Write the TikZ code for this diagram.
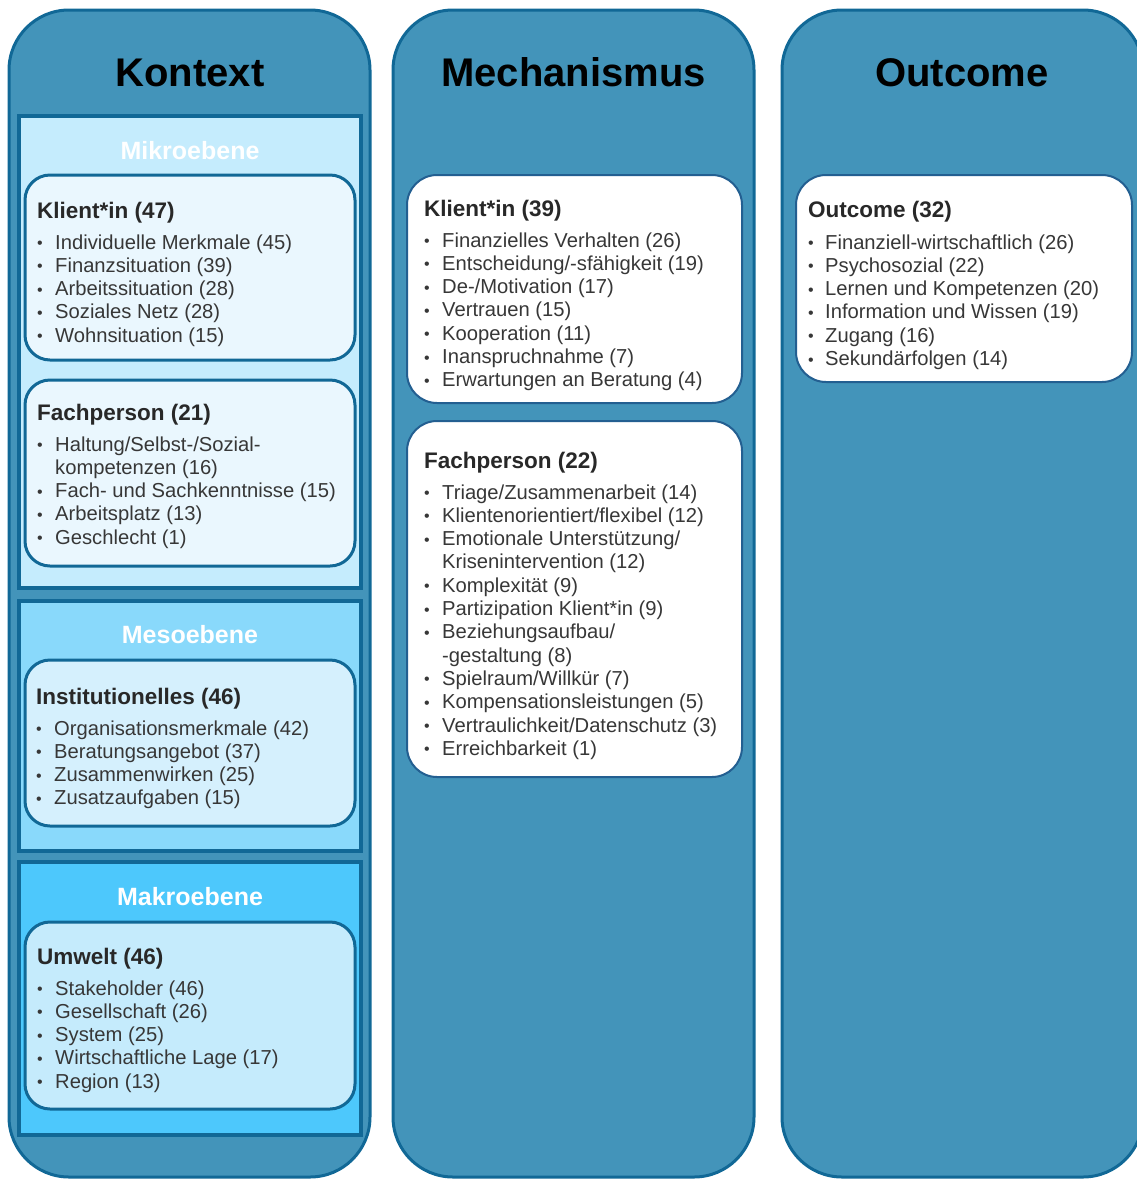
\documentclass[tikz,border=0pt]{standalone}
\usepackage{fontspec}
\setmainfont{Liberation Sans}
\usepackage{array}
\definecolor{colfill}{RGB}{67,148,186}
\definecolor{bord}{RGB}{17,104,150}
\definecolor{mikro}{RGB}{197,236,253}
\definecolor{meso}{RGB}{137,217,251}
\definecolor{makro}{RGB}{77,200,252}
\definecolor{klbox}{RGB}{234,247,254}
\definecolor{inbox}{RGB}{213,240,253}
\definecolor{umbox}{RGB}{197,235,252}
\definecolor{midbord}{RGB}{35,95,145}
\definecolor{txt}{RGB}{55,55,55}
\definecolor{hd}{RGB}{40,40,40}
\newcommand{\bul}{{\fontsize{16}{16}\selectfont\raisebox{0.5pt}{•}}}
\newcommand{\ilist}[2]{\fontsize{20.2}{23.3}\selectfont\renewcommand{\arraystretch}{1}\begin{tabular}[t]{@{}p{#1}@{}l@{}}#2\end{tabular}}
\tikzset{
  column/.style={draw=bord, line width=3pt, fill=colfill, rounded corners=60pt},
  level/.style={draw=bord, line width=4pt},
  inner/.style={draw=bord, line width=3pt, rounded corners=25pt},
  whitebox/.style={draw=midbord, line width=2pt, fill=white, rounded corners=30pt},
  coltitle/.style={anchor=base, font=\fontsize{40}{40}\selectfont\bfseries, text=black, inner sep=0pt},
  lvltitle/.style={anchor=base, font=\fontsize{25}{25}\selectfont\bfseries, text=white, inner sep=0pt},
  boxhead/.style={anchor=base west, font=\fontsize{22.5}{25}\selectfont\bfseries, text=hd, inner sep=0pt},
  boxlist/.style={anchor=base west, text=txt, inner sep=0pt},
}
\begin{document}
\begin{tikzpicture}[x=1pt,y=-1pt]
\useasboundingbox (0,0) rectangle (1137,1179);
\clip (0,0) rectangle (1137,1179);
% columns
\draw[column] (9,10) rectangle (370,1177);
\draw[column] (393,10) rectangle (754,1177);
\draw[column] (782,10) rectangle (1143,1177);
\node[coltitle] (tK) at (190,86) {Kontext};
\node[coltitle] (tM) at (573.5,86) {Mechanismus};
\node[coltitle] (tO) at (962,86) {Outcome};
% levels
\draw[level, fill=mikro] (19,116) rectangle (361,588);
\draw[level, fill=meso] (19,601) rectangle (361,851);
\draw[level, fill=makro] (19,862) rectangle (361,1135);
\node[lvltitle] (lMi) at (190,159) {Mikroebene};
\node[lvltitle] (lMe) at (190,643) {Mesoebene};
\node[lvltitle] (lMa) at (190,905) {Makroebene};
% inner boxes left
\draw[inner, fill=klbox] (25,175) rectangle (355,360);
\draw[inner, fill=klbox] (25,380) rectangle (355,566);
\draw[inner, fill=inbox] (25,660) rectangle (355,826);
\draw[inner, fill=umbox] (25,922) rectangle (355,1109);
\node[boxhead] (hK47) at (37,218) {Klient*in (47)};
\node[boxlist] (lK47) at (37,249) {\ilist{18pt}{\bul & Individuelle Merkmale (45)\\ \bul & Finanzsituation (39)\\ \bul & Arbeitssituation (28)\\ \bul & Soziales Netz (28)\\ \bul & Wohnsituation (15)}};
\node[boxhead] (hF21) at (37,420) {Fachperson (21)};
\node[boxlist] (lF21) at (37,451) {\ilist{18pt}{\bul & Haltung/Selbst-/Sozial-\\ & kompetenzen (16)\\ \bul & Fach- und Sachkenntnisse (15)\\ \bul & Arbeitsplatz (13)\\ \bul & Geschlecht (1)}};
\node[boxhead] (hI46) at (36,704) {Institutionelles (46)};
\node[boxlist] (lI46) at (36,735) {\ilist{18pt}{\bul & Organisationsmerkmale (42)\\ \bul & Beratungsangebot (37)\\ \bul & Zusammenwirken (25)\\ \bul & Zusatzaufgaben (15)}};
\node[boxhead] (hU46) at (37,964) {Umwelt (46)};
\node[boxlist] (lU46) at (37,995) {\ilist{18pt}{\bul & Stakeholder (46)\\ \bul & Gesellschaft (26)\\ \bul & System (25)\\ \bul & Wirtschaftliche Lage (17)\\ \bul & Region (13)}};
% middle boxes
\draw[whitebox] (407,175) rectangle (742,403);
\draw[whitebox] (407,421) rectangle (742,777);
\node[boxhead] (hK39) at (424,216) {Klient*in (39)};
\node[boxlist] (lK39) at (424,247) {\ilist{18pt}{\bul & Finanzielles Verhalten (26)\\ \bul & Entscheidung/-sfähigkeit (19)\\ \bul & De-/Motivation (17)\\ \bul & Vertrauen (15)\\ \bul & Kooperation (11)\\ \bul & Inanspruchnahme (7)\\ \bul & Erwartungen an Beratung (4)}};
\node[boxhead] (hF22) at (424,468) {Fachperson (22)};
\node[boxlist] (lF22) at (424,499) {\ilist{18pt}{\bul & Triage/Zusammenarbeit (14)\\ \bul & Klientenorientiert/flexibel (12)\\ \bul & Emotionale Unterstützung/\\ & Krisenintervention (12)\\ \bul & Komplexität (9)\\ \bul & Partizipation Klient*in (9)\\ \bul & Beziehungsaufbau/\\ & -gestaltung (8)\\ \bul & Spielraum/Willkür (7)\\ \bul & Kompensationsleistungen (5)\\ \bul & Vertraulichkeit/Datenschutz (3)\\ \bul & Erreichbarkeit (1)}};
% right box
\draw[whitebox] (796,175) rectangle (1132,382);
\node[boxhead] (hO32) at (808,217) {Outcome (32)};
\node[boxlist] (lO32) at (808,249) {\ilist{17pt}{\bul & Finanziell-wirtschaftlich (26)\\ \bul & Psychosozial (22)\\ \bul & Lernen und Kompetenzen (20)\\ \bul & Information und Wissen (19)\\ \bul & Zugang (16)\\ \bul & Sekundärfolgen (14)}};
\end{tikzpicture}
\end{document}
